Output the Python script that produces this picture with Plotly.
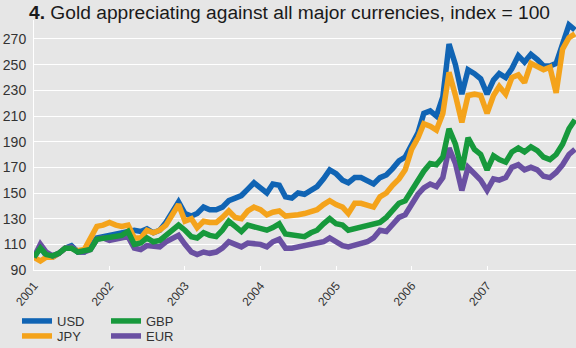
import pandas as pd
import plotly.graph_objects as go

usd = [100, 108, 101, 100, 103, 107, 109, 104, 104, 108,
       115, 116, 117, 118, 119, 120, 121, 120, 122, 119,
       121, 127, 135, 143, 134, 132, 134, 139, 137, 137,
       139, 144, 146, 148, 153, 158, 154, 150, 157, 156,
       147, 146, 150, 149, 152, 155, 161, 168, 165, 160,
       158, 162, 162, 159, 157, 162, 164, 169, 175, 178,
       188, 197, 212, 214, 210, 225, 266, 250, 227, 246,
       243, 239, 227, 238, 243, 240, 247, 257, 252, 258,
       254, 249, 249, 251, 266, 281, 277]

jpy = [100, 97, 100, 100, 103, 107, 107, 105, 106, 114,
       124, 125, 127, 125, 124, 125, 115, 115, 121, 119,
       121, 125, 134, 141, 128, 130, 123, 128, 127, 127,
       131, 136, 131, 130, 136, 139, 137, 133, 135, 136,
       132, 132, 133, 134, 136, 137, 141, 144, 141, 139,
       134, 142, 142, 141, 139, 147, 150, 156, 161, 168,
       184, 193, 204, 202, 199, 212, 244, 226, 205, 226,
       227, 226, 212, 226, 233, 227, 240, 242, 236, 251,
       248, 246, 248, 228, 262, 271, 274]

gbp = [100, 107, 102, 101, 103, 107, 107, 104, 105, 106,
       114, 115, 115, 117, 117, 120, 110, 111, 115, 112,
       113, 117, 121, 125, 121, 116, 115, 119, 117, 116,
       121, 128, 124, 120, 125, 124, 123, 121, 123, 126,
       118, 117, 117, 116, 119, 121, 126, 130, 126, 125,
       121, 122, 123, 124, 126, 127, 131, 136, 142, 144,
       152, 160, 167, 173, 172, 178, 200, 188, 168, 193,
       184, 180, 168, 179, 176, 174, 182, 185, 182, 186,
       183, 178, 176, 180, 188, 200, 207]

eur = [100, 110, 104, 101, 103, 107, 108, 104, 104, 106,
       114, 115, 113, 114, 114, 116, 107, 106, 109, 108,
       108, 112, 115, 117, 110, 104, 102, 104, 103, 104,
       107, 112, 110, 108, 111, 111, 110, 108, 112, 114,
       107, 107, 108, 109, 110, 111, 112, 115, 112, 109,
       108, 109, 110, 112, 115, 121, 120, 126, 131, 133,
       142, 149, 154, 157, 155, 162, 185, 173, 152, 170,
       165, 160, 152, 161, 160, 162, 170, 172, 168, 170,
       168, 163, 162, 166, 172, 180, 184]

months = pd.date_range("2001-01-01", periods=len(usd), freq="MS")

year_ticks = ["2001-01-01", "2002-01-01", "2003-01-01", "2004-01-01",
              "2005-01-01", "2006-01-01", "2007-01-01"]
year_labels = ["2001", "2002", "2003", "2004", "2005", "2006", "2007"]
y_ticks = [90, 110, 130, 150, 170, 190, 210, 230, 250, 270]

BG = "#e6e6e6"
# name, values, colour, legend id
series = [
    ("USD", usd, "#1064b4", "legend"),
    ("JPY", jpy, "#f4a31b", "legend2"),
    ("EUR", eur, "#6a50a2", "legend4"),
    ("GBP", gbp, "#17993c", "legend3"),
]

fig = go.Figure()
for name, vals, color, leg in series:
    fig.add_trace(go.Scatter(
        x=months, y=vals, name=name, mode="lines",
        line=dict(color=color, width=5.5),
        legend=leg, showlegend=True,
    ))

font_family = "Liberation Sans, Arial, sans-serif"

PLOT_L, PLOT_R, PLOT_T, PLOT_B = 34, 576, 20, 270


def leg_pos(px, py):
    return dict(
        x=(px - PLOT_L) / (PLOT_R - PLOT_L),
        y=(PLOT_B - py) / (PLOT_B - PLOT_T),
        xanchor="left", yanchor="middle", orientation="v",
        font=dict(size=13, color="#333333", family=font_family),
        bgcolor="rgba(0,0,0,0)", borderwidth=0,
    )


fig.update_layout(
    width=576, height=348,
    showlegend=True,
    margin=dict(l=PLOT_L, r=576 - PLOT_R, t=PLOT_T, b=348 - PLOT_B,
                autoexpand=False),
    paper_bgcolor=BG, plot_bgcolor=BG,
    font=dict(family=font_family, color="#333333"),
    title=dict(
        text="<b>4.</b> Gold appreciating against all major currencies, index = 100",
        x=29 / 576, xref="container", xanchor="left",
        y=1 - 12 / 348, yref="container", yanchor="middle",
        font=dict(size=19.2, color="#1a1a1a", family=font_family),
    ),
    xaxis=dict(
        range=["2001-01-01", "2008-03-06"],
        tickvals=year_ticks, ticktext=year_labels,
        tickangle=-50, tickfont=dict(size=12, color="#333333"),
        showgrid=False, showline=True, linecolor="white", linewidth=1,
        ticks="inside", ticklen=4, tickcolor="white",
        zeroline=False, ticklabelstandoff=3,
    ),
    yaxis=dict(
        range=[90, 284.8],
        tickvals=y_ticks,
        tickfont=dict(size=14, color="#333333"),
        showgrid=True, gridcolor="white", gridwidth=1,
        showline=True, linecolor="white", linewidth=1,
        zeroline=False, ticks="", ticklabelstandoff=4,
    ),
    legend=leg_pos(17, 321),
    legend2=leg_pos(17, 336),
    legend3=leg_pos(106, 321),
    legend4=leg_pos(106, 336),
)

fig.write_html("out.html")
